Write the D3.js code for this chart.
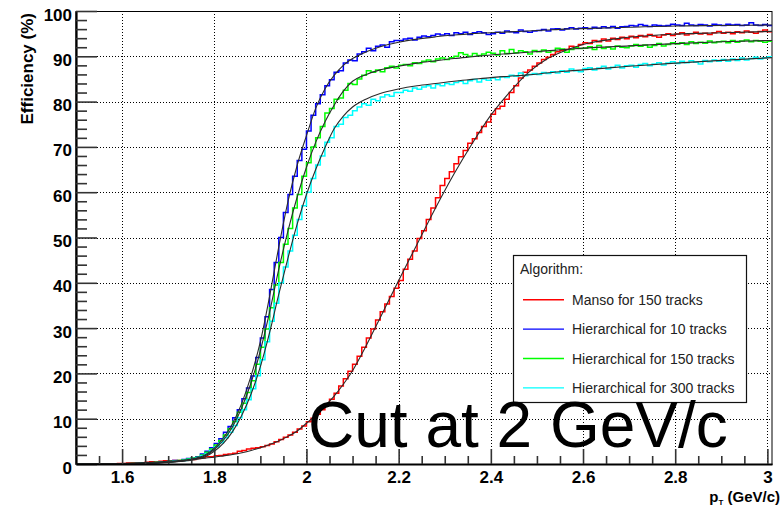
<!DOCTYPE html>
<html><head><meta charset="utf-8">
<script src="https://cdn.jsdelivr.net/npm/d3@7"></script>
<style>
body{margin:0;background:#fff}
svg{display:block}
text{font-family:"Liberation Sans",Arial,Helvetica,sans-serif}
</style>
</head><body>
<svg id="chart" width="782" height="512"></svg>
<script>
// ---------- data ----------
const xTicks = [1.6, 1.8, 2.0, 2.2, 2.4, 2.6, 2.8, 3.0];
const xTickLabels = ["1.6", "1.8", "2", "2.2", "2.4", "2.6", "2.8", "3"];
const yTicks = [0, 10, 20, 30, 40, 50, 60, 70, 80, 90, 100];
const xDomain = [1.5, 3.01];
const yDomain = [0, 100];
const binStart = 1.5;
const binWidth = 0.01;
const seriesNames = ["Manso for 150 tracks", "Hierarchical for 10 tracks", "Hierarchical for 150 tracks", "Hierarchical for 300 tracks"];
const legendTitle = "Algorithm:";
const annotation = "Cut at 2 GeV/c";
const yTitle = "Efficiency (%)";

// histogram contents, one value per 0.01 GeV/c bin from 1.50 to 3.01
const manso150 = [
  0,0,0,0,0,0,0,0,0,0.1,
  0.1,0.2,0.2,0.2,0.3,0.4,0.5,0.4,0.6,0.7,
  0.7,0.8,0.8,0.9,1.0,1.0,1.2,1.4,1.6,1.6,
  1.8,1.9,2.1,2.2,2.4,2.8,3.0,3.3,3.5,3.6,
  3.8,4.1,4.4,4.9,5.4,5.9,6.4,7.0,7.7,8.4,
  9.3,10.1,11.0,12.0,13.1,14.3,15.6,17.2,18.8,20.5,
  22.0,23.8,25.8,27.8,29.8,31.8,33.6,35.3,37.0,38.8,
  40.5,43.0,45.2,47.0,49.8,51.5,54.0,56.5,58.8,61.5,
  63.0,64.5,66.3,67.8,69.2,70.8,71.8,73.2,74.5,75.5,
  77.2,78.4,79.0,80.5,82.0,83.5,85.2,86.5,87.0,87.8,
  88.5,89.3,89.8,90.4,91.0,91.3,91.5,92.2,92.0,92.6,
  93.0,92.8,93.5,93.2,93.8,93.4,94.0,93.7,94.2,93.9,
  94.4,94.1,94.6,94.3,94.8,94.5,94.2,94.7,95.0,94.6,
  94.9,95.2,94.7,95.0,95.3,94.9,95.1,94.8,95.2,95.5,
  95.1,95.3,95.0,95.4,95.2,95.6,95.3,95.1,95.5,95.8,
  95.4
];
const hier10 = [
  0,0,0,0,0,0,0,0,0,0,
  0,0,0,0.1,0.2,0.2,0.3,0.3,0.4,0.5,
  0.6,0.8,0.7,1.0,1.2,1.3,1.6,2.2,2.8,3.6,
  4.5,5.6,7.0,8.3,10.2,12.0,14.4,16.8,19.4,23.5,
  27.8,32.5,38.5,44.5,50.0,55.5,59.5,63.5,67.0,69.5,
  73.5,77.0,79.5,81.5,83.5,84.8,86.5,86.8,88.5,89.2,
  89.0,90.5,91.0,91.8,91.2,92.2,92.5,92.0,93.2,93.5,
  93.5,93.8,94.0,93.6,94.2,94.5,94.3,94.6,94.9,94.7,
  95.0,94.6,95.2,95.0,95.3,94.8,95.2,95.4,95.2,94.8,
  95.0,95.3,95.1,95.6,95.4,95.2,95.8,95.5,95.3,95.6,
  95.7,95.9,95.6,96.0,96.1,95.8,96.1,96.3,96.0,96.2,
  96.3,96.1,96.4,96.2,96.5,96.3,96.6,96.2,96.5,96.6,
  96.8,96.7,97.0,96.8,96.6,96.9,96.8,96.7,96.8,97.1,
  96.9,96.8,97.3,96.9,96.8,97.0,96.9,96.7,97.1,96.9,
  96.8,97.1,96.9,97.0,96.8,96.9,97.4,96.9,96.8,97.0,
  96.8
];
const hier150 = [
  0,0,0,0,0,0,0,0,0,0,
  0,0,0.1,0.1,0.2,0.2,0.3,0.4,0.4,0.5,
  0.6,0.6,0.8,0.9,1.1,1.3,1.5,2.0,2.6,3.3,
  4.2,5.2,6.4,7.8,9.4,11.4,13.4,15.8,18.4,22.0,
  25.8,29.8,34.5,39.5,44.5,48.5,52.0,56.5,59.5,63.5,
  66.5,70.0,72.0,74.5,77.5,78.5,80.5,80.8,82.5,84.0,
  83.8,85.0,85.8,86.8,86.5,87.0,86.6,87.5,87.8,87.4,
  88.0,88.2,87.9,88.6,88.4,88.9,89.2,88.8,89.4,89.6,
  89.3,89.7,90.0,90.8,90.4,90.0,90.6,90.2,90.5,90.9,
  90.7,90.3,91.2,90.6,91.5,90.8,91.2,91.0,90.5,91.3,
  91.0,91.4,90.9,91.2,91.8,91.6,90.9,91.5,91.9,91.7,
  91.8,92.1,91.5,92.4,91.7,92.0,91.6,92.3,92.0,91.9,
  92.3,92.6,92.2,92.5,92.0,92.4,92.8,92.3,92.6,93.0,
  92.7,93.0,92.6,93.2,92.8,93.1,92.9,93.4,93.0,93.2,
  93.3,93.0,93.5,93.1,93.4,93.6,93.2,93.5,93.3,93.1,
  93.3
];
const hier300 = [
  0,0,0,0,0,0,0,0,0,0,
  0,0,0,0.1,0.2,0.2,0.3,0.3,0.4,0.5,
  0.5,0.6,0.7,0.8,1.0,1.2,1.4,1.8,2.3,3.0,
  3.8,4.7,5.8,7.0,8.5,10.2,12.0,14.2,16.6,19.5,
  23.0,27.0,31.5,35.5,40.0,43.5,47.0,50.5,54.0,57.0,
  60.0,63.0,66.0,68.0,71.0,72.0,74.5,75.0,76.5,77.0,
  78.0,78.8,79.5,79.2,80.5,80.2,81.0,81.5,81.2,82.0,
  82.0,82.5,82.3,83.0,82.7,83.2,83.5,83.0,83.8,83.5,
  84.0,83.8,84.2,84.5,84.0,84.6,84.9,84.3,85.0,84.7,
  85.2,84.8,85.5,85.3,85.8,85.6,86.3,85.7,86.0,86.2,
  86.0,86.4,86.2,86.6,86.3,86.8,86.5,87.2,86.8,86.6,
  87.3,87.5,87.0,87.4,87.8,87.2,87.6,88.0,87.4,87.9,
  88.0,87.6,88.2,88.4,87.9,88.3,88.6,88.1,88.5,88.8,
  88.4,88.9,88.6,89.0,88.7,88.3,89.1,88.8,89.2,88.9,
  89.3,88.9,89.4,89.1,89.6,89.2,89.5,89.8,89.4,89.7,
  89.9
];

// fitted curves, sampled at fitX
const fitX = [1.50,1.60,1.65,1.70,1.74,1.78,1.80,1.82,1.84,1.86,1.88,1.90,1.92,1.94,1.96,1.98,2.00,2.02,2.04,2.06,2.08,2.10,2.13,2.16,2.20,2.24,2.28,2.32,2.36,2.40,2.44,2.48,2.52,2.56,2.60,2.70,2.80,2.90,3.01];
const fitManso150 = [0,0.1,0.3,0.6,0.9,1.3,1.5,1.8,2.1,2.5,3.0,3.6,4.3,5.1,6.1,7.3,9.0,10.8,12.8,15.0,17.6,20.6,26.2,32.3,40.5,48.5,56.5,64.0,70.8,77.0,82.0,86.3,89.3,91.2,92.6,94.2,94.9,95.2,95.5];
const fitHier10 = [0,0.05,0.15,0.4,0.9,2.0,3.5,5.8,9.0,13.5,19.5,27.0,37.0,48.0,58.0,66.0,72.5,78.5,82.8,85.8,88.0,89.5,91.0,92.1,93.1,93.8,94.3,94.7,95.0,95.2,95.4,95.6,95.8,96.0,96.1,96.4,96.7,96.8,96.9];
const fitHier150 = [0,0.05,0.15,0.4,0.8,1.8,3.2,5.3,8.3,12.5,18.0,25.0,33.5,43.0,51.5,59.0,65.5,71.0,75.5,79.2,82.3,84.5,86.0,87.0,87.8,88.5,89.0,89.5,89.9,90.3,90.6,90.9,91.2,91.5,91.8,92.3,92.8,93.2,93.5];
const fitHier300 = [0,0.05,0.15,0.35,0.7,1.6,2.8,4.6,7.2,10.8,15.5,21.5,29.0,37.5,45.5,53.0,59.5,65.0,69.8,74.0,76.8,78.8,80.6,81.8,82.8,83.5,84.0,84.5,84.9,85.3,85.6,85.9,86.3,86.7,87.0,87.8,88.5,89.1,89.7];

const histograms = [manso150, hier10, hier150, hier300];
const fits = [fitManso150, fitHier10, fitHier150, fitHier300];
const colors = ["#ff0000", "#0000ff", "#00ff00", "#00ffff"];

// ---------- layout ----------
const svg = d3.select("#chart");
const L = 76, R = 772, T = 11, B = 464;
const x = d3.scaleLinear().domain(xDomain).range([L, R]);
const y = d3.scaleLinear().domain(yDomain).range([B, T]);

svg.append("rect").attr("width", 782).attr("height", 512).attr("fill", "#fff");

// grid
const grid = svg.append("g").attr("stroke", "#000").attr("stroke-width", 1).attr("stroke-dasharray", "1,2");
grid.selectAll("line.gx").data(xTicks).join("line")
  .attr("x1", d => Math.round(x(d)) + 0.5).attr("x2", d => Math.round(x(d)) + 0.5)
  .attr("y1", T).attr("y2", B);
grid.selectAll("line.gy").data(yTicks.filter(d => d > 0)).join("line")
  .attr("x1", L).attr("x2", R)
  .attr("y1", d => Math.round(y(d)) + 0.5).attr("y2", d => Math.round(y(d)) + 0.5);

// frame
svg.append("rect").attr("x", L).attr("y", T + 0.5).attr("width", R - L).attr("height", B - T)
  .attr("fill", "none").attr("stroke", "#000").attr("stroke-width", 1);

// clip
svg.append("clipPath").attr("id", "clip").append("rect")
  .attr("x", L).attr("y", T - 2).attr("width", R - L + 1).attr("height", B - T + 3);

const plot = svg.append("g").attr("clip-path", "url(#clip)");

// histograms (step outlines)
const stepLine = d3.line().x(d => x(d[0])).y(d => y(d[1])).curve(d3.curveStepAfter);
histograms.forEach((h, k) => {
  const pts = h.map((v, i) => [binStart + i * binWidth, v]);
  pts.push([binStart + h.length * binWidth, h[h.length - 1]]);
  plot.append("path").attr("d", stepLine(pts))
    .attr("fill", "none").attr("stroke", colors[k]).attr("stroke-width", 1.5);
});

// fits
const fitLine = d3.line().x(d => x(d[0])).y(d => y(d[1])).curve(d3.curveMonotoneX);
fits.forEach(f => {
  plot.append("path").attr("d", fitLine(fitX.map((xx, i) => [xx, f[i]])))
    .attr("fill", "none").attr("stroke", "#2a2a2a").attr("stroke-width", 1.1);
});

// axes
const tickFont = "bold 17px 'Liberation Sans', Arial, sans-serif";
const yMinor = d3.range(0, 101, 2).filter(d => d % 10 !== 0);
const yAxis = d3.axisLeft(y).tickValues(yTicks).tickFormat(d3.format("d"))
  .tickSizeInner(-21).tickSizeOuter(0).tickPadding(4);
const gy = svg.append("g").attr("transform", `translate(${L},0)`).call(yAxis);
gy.selectAll("text").style("font", tickFont).attr("fill", "#000").attr("dy", "0.53em");
gy.selectAll(".tick line").attr("stroke", "#333").attr("stroke-width", 1.6);
gy.select(".domain").attr("stroke", "#000").attr("stroke-width", 2.2);
const gym = svg.append("g").attr("transform", `translate(${L},0)`)
  .call(d3.axisLeft(y).tickValues(yMinor).tickFormat("").tickSizeInner(-11).tickSizeOuter(0));
gym.selectAll(".tick line").attr("stroke", "#333").attr("stroke-width", 1.6);
gym.select(".domain").remove();

const xMinor = d3.range(1.55, 3.001, 0.05).filter(d => !xTicks.some(t => Math.abs(t - d) < 1e-6));
const xAxis = d3.axisBottom(x).tickValues(xTicks).tickFormat((d, i) => xTickLabels[i])
  .tickSizeInner(-15).tickSizeOuter(0).tickPadding(7);
const gx = svg.append("g").attr("transform", `translate(0,${B})`).call(xAxis);
gx.selectAll("text").style("font", tickFont).attr("fill", "#000");
gx.selectAll(".tick line").attr("stroke", "#333").attr("stroke-width", 1.6);
gx.select(".domain").attr("stroke", "#000").attr("stroke-width", 2.2);
const gxm = svg.append("g").attr("transform", `translate(0,${B})`)
  .call(d3.axisBottom(x).tickValues(xMinor).tickFormat("").tickSizeInner(-8).tickSizeOuter(0));
gxm.selectAll(".tick line").attr("stroke", "#333").attr("stroke-width", 1.6);
gxm.select(".domain").remove();

// axis titles
svg.append("text").attr("transform", "translate(33,13) rotate(-90)")
  .attr("text-anchor", "end").style("font", "bold 17px 'Liberation Sans', Arial, sans-serif")
  .text(yTitle);
const xt = svg.append("text").attr("x", 780).attr("y", 502).attr("text-anchor", "end")
  .style("font", "bold 15px 'Liberation Sans', Arial, sans-serif");
xt.append("tspan").text("p");
xt.append("tspan").attr("font-size", "8px").attr("dy", "3").text("T");
xt.append("tspan").attr("dy", "-3").text(" (GeV/c)");

// legend
const lg = svg.append("g");
lg.append("rect").attr("x", 513.5).attr("y", 255.5).attr("width", 233).attr("height", 147)
  .attr("fill", "#fff").attr("stroke", "#111").attr("stroke-width", 1.2);
lg.append("text").attr("x", 520).attr("y", 274).attr("font-size", "14px").attr("fill", "#222").text(legendTitle);
seriesNames.forEach((n, i) => {
  const ly = 299.7 + i * 29.4;
  lg.append("line").attr("x1", 523).attr("x2", 564).attr("y1", ly).attr("y2", ly)
    .attr("stroke", colors[i]).attr("stroke-width", 1.4);
  lg.append("text").attr("x", 572).attr("y", ly + 5).attr("font-size", "14px").attr("fill", "#222").text(n);
});

// annotation
svg.append("text").attr("x", 308).attr("y", 447).attr("font-size", "64px").attr("fill", "#000").text(annotation);
</script>
</body></html>
